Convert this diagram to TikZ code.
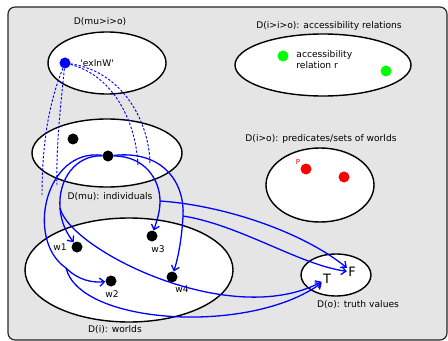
\documentclass[tikz,border=0pt]{standalone}
\usepackage{fontspec}
\setmainfont{DejaVu Sans}
\usetikzlibrary{shapes.geometric,arrows.meta}
\tikzset{
  dom/.style={ellipse, draw, line width=1.2pt, fill=white, inner sep=0pt},
  elt/.style={circle, fill=#1, inner sep=0pt, minimum size=0.33cm},
  elt/.default=black,
  lbl/.style={font=\fontsize{7.8}{9.4}\selectfont, inner sep=1pt},
  conn/.style={blue, line width=1.1pt, -{Straight Barb[length=4pt,width=7pt]}},
  ptr/.style={blue, line width=0.8pt, dash pattern=on 2pt off 1.5pt},
}
\begin{document}
\begin{tikzpicture}[x=0.03cm, y=-0.03cm]
    \useasboundingbox (0,0) rectangle (448,341);
    \draw[rounded corners=6pt, fill=black!10, draw=black!85, line width=1pt] (8,7) rectangle (447,340);

    % domains
    \node[dom, minimum width=3.54cm, minimum height=1.86cm] (mio) at (107,63) {};
    \node[dom, minimum width=4.5cm, minimum height=2.04cm] (mu) at (107,153) {};
    \node[dom, minimum width=6.24cm, minimum height=3.12cm] (wld) at (129,270) {};
    \node[dom, minimum width=5.28cm, minimum height=1.86cm] (acc) at (323,65) {};
    \node[dom, minimum width=3.24cm, minimum height=2.22cm] (pred) at (320,185) {};
    \node[dom, minimum width=2.1cm, minimum height=1.26cm] (tv) at (336,275) {};

    \node[lbl] (miol) at (100,22) {D(mu>i>o)};
    \node[lbl] (mul) at (110,197) {D(mu): individuals};
    \node[lbl] (wldl) at (115,330) {D(i): worlds};
    \node[lbl] (accl) at (329,26) {D(i>i>o): accessibility relations};
    \node[lbl] (predl) at (321,139) {D(i>o): predicates/sets of worlds};
    \node[lbl] (tvl) at (358,305) {D(o): truth values};

    % elements
    \node[elt=blue] (exinw) at (65,63) {};
    \node[lbl, anchor=west] (exinwl) at (79,63) {\textquotesingle exInW\textquotesingle};
    \node[elt] (ind1) at (73,139) {};
    \node[elt] (ind2) at (108,156) {};
    \node[elt] (w1) at (77,247) {};
    \node[elt] (w2) at (111,281) {};
    \node[elt] (w3) at (152,236) {};
    \node[elt] (w4) at (172,277) {};
    \node[lbl] (w1l) at (60,247) {w1};
    \node[lbl] (w2l) at (112,294) {w2};
    \node[lbl] (w3l) at (158,249) {w3};
    \node[lbl] (w4l) at (182,289) {w4};
    \node[elt=green] (r1) at (283,56) {};
    \node[elt=green] (r2) at (386,71) {};
    \node[lbl, anchor=west, align=left] (rl) at (295,60) {accessibility\\relation r};
    \node[elt=red] (p1) at (306,169) {};
    \node[elt=red] (p2) at (344,177) {};
    \node[lbl, red, font=\fontsize{6}{7}\selectfont] (pl) at (298,162) {P};
    \node[font=\fontsize{11}{13}\selectfont, inner sep=1pt] (tt) at (327,279) {T};
    \node[font=\fontsize{11}{13}\selectfont, inner sep=1pt] (ff) at (352,272) {F};

    % exInW, dashed
    \coordinate (e1) at (42,195);
    \coordinate (e2) at (57,185);
    \coordinate (e3) at (138,167);
    \coordinate (e4) at (150,165);
    \draw[ptr] (exinw) .. controls (50,100) and (42,140) .. (e1);
    \draw[ptr] (exinw) .. controls (60,110) and (56,150) .. (e2);
    \draw[ptr] (exinw) .. controls (115,76) and (137,125) .. (e3);
    \draw[ptr] (exinw) .. controls (125,72) and (150,125) .. (e4);

    % individual to worlds, worlds to truth values
    \coordinate (b1) at (60,208);
    \coordinate (b2) at (66,268);
    \coordinate (b3) at (160,201);
    \coordinate (b4) at (183,216);
    \draw[conn] (ind2) .. controls (75,155) and (58,180) .. (b1) .. controls (61,222) and (66,232) .. (w1);
    \draw[conn] (ind2) .. controls (45,148) and (25,240) .. (b2) .. controls (78,280) and (92,283) .. (w2);
    \draw[conn] (ind2) .. controls (145,156) and (160,180) .. (b3) .. controls (160,212) and (157,220) .. (w3);
    \draw[conn] (ind2) .. controls (165,150) and (185,185) .. (b4) .. controls (182,235) and (179,255) .. (w4);
    \draw[conn] (b1) .. controls (70,250) and (230,330) .. (tt);
    \draw[conn] (b2) .. controls (80,325) and (250,335) .. (tt);
    \draw[conn] (b3) .. controls (220,205) and (300,230) .. (ff);
    \draw[conn] (b4) .. controls (240,225) and (300,265) .. (ff);
\end{tikzpicture}
\end{document}
